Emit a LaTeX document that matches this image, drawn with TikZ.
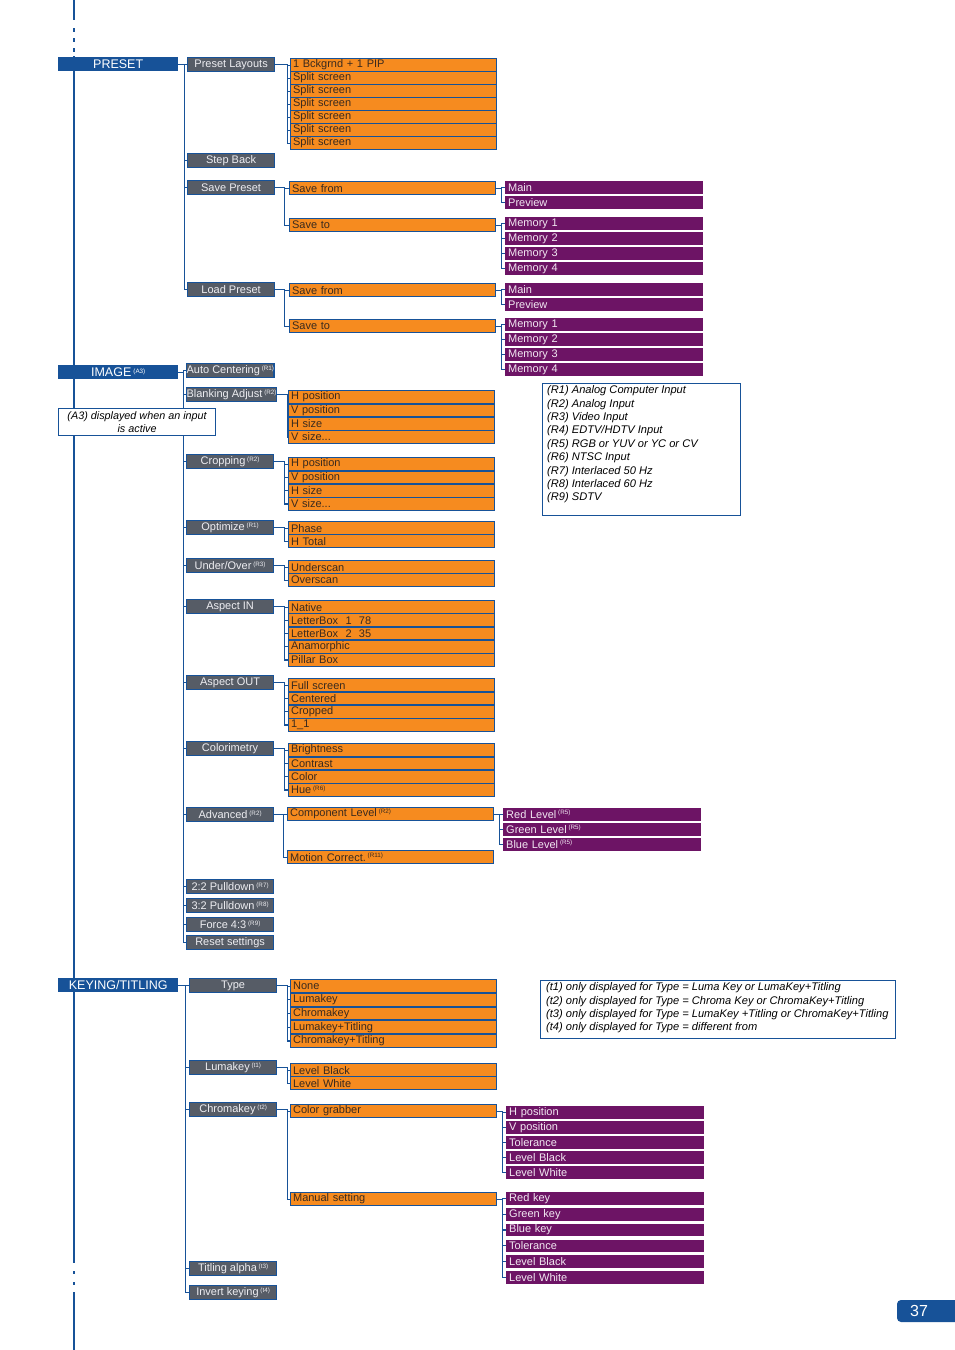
\documentclass[tikz,border=0pt]{standalone}
\usepackage{fontspec}
\setmainfont{Liberation Sans}
\definecolor{mblue}{HTML}{175298}
\definecolor{mgray}{HTML}{565C66}
\definecolor{gtext}{HTML}{EEEEF2}
\definecolor{morange}{HTML}{F68B1F}
\definecolor{otext}{HTML}{3A2A1E}
\definecolor{mpurple}{HTML}{6D1465}
\definecolor{ptext}{HTML}{F2E8F2}
\newcommand\mysup[1]{\,{\fontsize{6.3}{6.3}\selectfont\raisebox{3.4pt}{#1}}}
\newcommand\mydots{.\kern0pt.\kern0pt.}
\begin{document}
\begin{tikzpicture}[x=1pt,y=-1pt,
  conn/.style={draw=mblue, line width=1.2pt},
  l0/.style={anchor=north west, fill=mblue, text=white, minimum width=120pt, minimum height=14pt, inner sep=0pt, font=\fontsize{12.5}{12.5}\selectfont},
  l1/.style={anchor=north west, fill=mgray, draw=mblue, line width=1.2pt, text=gtext, minimum width=87pt, minimum height=14pt, inner sep=0pt, font=\fontsize{11}{11}\selectfont},
  l2/.style={anchor=north west, fill=morange, draw=mblue, line width=1.2pt, text=otext, text width=201pt, inner xsep=2.5pt, inner ysep=0pt, minimum height=13pt, align=left, font=\fontsize{11}{11}\selectfont},
  l3/.style={anchor=north west, fill=mpurple, text=ptext, text width=192pt, inner xsep=3pt, inner ysep=0pt, minimum height=12.5pt, align=left, font=\fontsize{11}{11}\selectfont},
  legbox/.style={anchor=north west, draw=mblue, line width=1.2pt, fill=white, inner sep=0pt},
  legtext/.style={anchor=north west, align=left, inner sep=0pt, font=\itshape\fontsize{11.1}{13.4}\selectfont},
]
\useasboundingbox (0,0) rectangle (954,1350);

% main left line
\draw[conn] (74,0) -- (74,20);
\draw[conn] (74,28) -- (74,32);
\draw[conn] (74,38) -- (74,42);
\draw[conn] (74,48) -- (74,52);
\draw[conn] (74,56) -- (74,1263);
\draw[conn] (74,1271) -- (74,1274);
\draw[conn] (74,1282) -- (74,1285);
\draw[conn] (74,1292) -- (74,1350);

% ================= PRESET =================
\node[l0] (preset) at (58,57) {PRESET};
\node[l1] (pl) at (187,57) {Preset Layouts};
\node[l1] (sb) at (187,153) {Step Back};
\node[l1] (sp) at (187,180) {Save Preset};
\node[l1] (lp) at (187,282) {Load Preset};
\foreach \n in {pl,sb,sp,lp} \draw[conn] (preset.east) -- ++(6,0) |- (\n.west);

\foreach \lab [count=\i] in {1 Bckgrnd + 1 PIP,Split screen,Split screen,Split screen,Split screen,Split screen,Split screen}
  \node[l2] (pl\i) at (290,{58+(\i-1)*13}) {\lab};
\foreach \i in {1,...,7} \draw[conn] (pl.east) -- ++(12,0) |- (pl\i.west);

\node[l2] (sp1) at (289,181) {Save from};
\node[l2] (sp2) at (289,218) {Save to};
\foreach \n in {sp1,sp2} \draw[conn] (sp.east) -- ++(9,0) |- (\n.west);
\foreach \lab [count=\i] in {Main,Preview}
  \node[l3] (spa\i) at (505,{181+(\i-1)*15}) {\lab};
\foreach \i in {1,2} \draw[conn] (sp1.east) -- ++(5,0) |- (spa\i.west);
\foreach \lab [count=\i] in {Memory 1,Memory 2,Memory 3,Memory 4}
  \node[l3] (spb\i) at (505,{217+(\i-1)*15}) {\lab};
\foreach \i in {1,...,4} \draw[conn] (sp2.east) -- ++(5,0) |- (spb\i.west);

\node[l2] (lp1) at (289,283) {Save from};
\node[l2] (lp2) at (289,319) {Save to};
\foreach \n in {lp1,lp2} \draw[conn] (lp.east) -- ++(9,0) |- (\n.west);
\foreach \lab [count=\i] in {Main,Preview}
  \node[l3] (lpa\i) at (505,{283+(\i-1)*15}) {\lab};
\foreach \i in {1,2} \draw[conn] (lp1.east) -- ++(5,0) |- (lpa\i.west);
\foreach \lab [count=\i] in {Memory 1,Memory 2,Memory 3,Memory 4}
  \node[l3] (lpb\i) at (505,{318+(\i-1)*15}) {\lab};
\foreach \i in {1,...,4} \draw[conn] (lp2.east) -- ++(5,0) |- (lpb\i.west);

% ================= IMAGE =================
\node[l0] (image) at (58,365) {IMAGE\mysup{(A3)}};
\node[l1] (ac) at (186,363) {Auto Centering\mysup{(R1)}};
\node[l1] (ba) at (186,387) {Blanking Adjust\mysup{(R2)}};
\node[l1] (cr) at (186,454) {Cropping\mysup{(R2)}};
\node[l1] (op) at (186,520) {Optimize\mysup{(R1)}};
\node[l1] (uo) at (186,558) {Under/Over\mysup{(R3)}};
\node[l1] (ai) at (186,599) {Aspect IN};
\node[l1] (ao) at (186,675) {Aspect OUT};
\node[l1] (co) at (186,741) {Colorimetry};
\node[l1] (ad) at (186,807) {Advanced\mysup{(R2)}};
\node[l1] (p22) at (186,879) {2:2 Pulldown\mysup{(R7)}};
\node[l1] (p32) at (186,898) {3:2 Pulldown\mysup{(R8)}};
\node[l1] (f43) at (186,917) {Force 4:3\mysup{(R9)}};
\node[l1] (rs) at (186,935) {Reset settings};
\foreach \n in {ac,ba,cr,op,uo,ai,ao,co,ad,p22,p32,f43,rs}
  \draw[conn] (image.east) -- ++(5,0) |- (\n.west);

\foreach \lab [count=\i] in {H position,V position,H size,V size\mydots}
  \node[l2] (ba\i) at (288,{390+(\i-1)*13.3}) {\lab};
\foreach \i in {1,...,4} \draw[conn] (ba.east) -- ++(10,0) |- (ba\i.west);

\foreach \lab [count=\i] in {H position,V position,H size,V size\mydots}
  \node[l2] (cr\i) at (288,{457+(\i-1)*13.3}) {\lab};
\foreach \i in {1,...,4} \draw[conn] (cr.east) -- ++(10,0) |- (cr\i.west);

\foreach \lab [count=\i] in {Phase,H Total}
  \node[l2] (op\i) at (288,{521+(\i-1)*13}) {\lab};
\foreach \i in {1,2} \draw[conn] (op.east) -- ++(10,0) |- (op\i.west);

\foreach \lab [count=\i] in {Underscan,Overscan}
  \node[l2] (uo\i) at (288,{560+(\i-1)*13}) {\lab};
\foreach \i in {1,2} \draw[conn] (uo.east) -- ++(10,0) |- (uo\i.west);

\foreach \lab [count=\i] in {Native,LetterBox~ 1~ 78,LetterBox~ 2~ 35,Anamorphic,Pillar Box}
  \node[l2] (ai\i) at (288,{600+(\i-1)*13.2}) {\lab};
\foreach \i in {1,...,5} \draw[conn] (ai.east) -- ++(10,0) |- (ai\i.west);

\foreach \lab [count=\i] in {Full screen,Centered,Cropped,1\_1}
  \node[l2] (ao\i) at (288,{678+(\i-1)*13.3}) {\lab};
\foreach \i in {1,...,4} \draw[conn] (ao.east) -- ++(10,0) |- (ao\i.west);

\foreach \lab [count=\i] in {Brightness,Contrast,Color,Hue\mysup{(R6)}}
  \node[l2] (co\i) at (288,{743+(\i-1)*13.3}) {\lab};
\foreach \i in {1,...,4} \draw[conn] (co.east) -- ++(10,0) |- (co\i.west);

\node[l2] (ad1) at (287,807) {Component Level\mysup{(R2)}};
\node[l2] (ad2) at (287,850) {Motion Correct.\mysup{(R11)}};
\foreach \n in {ad1,ad2} \draw[conn] (ad.east) -- ++(9,0) |- (\n.west);
\foreach \lab [count=\i] in {Red Level\mysup{(R5)},Green Level\mysup{(R5)},Blue Level\mysup{(R5)}}
  \node[l3] (ada\i) at (503,{808+(\i-1)*15}) {\lab};
\foreach \i in {1,2,3} \draw[conn] (ad1.east) -- ++(5,0) |- (ada\i.west);

% ================= KEYING/TITLING =================
\node[l0] (key) at (58,978) {KEYING/TITLING};
\node[l1] (ty) at (189,978) {Type};
\node[l1] (lk) at (189,1060) {Lumakey\mysup{(t1)}};
\node[l1] (ck) at (189,1102) {Chromakey\mysup{(t2)}};
\node[l1] (ta) at (189,1261) {Titling alpha\mysup{(t3)}};
\node[l1] (ik) at (189,1285) {Invert keying\mysup{(t4)}};
\foreach \n in {ty,lk,ck,ta,ik} \draw[conn] (key.east) -- ++(7,0) |- (\n.west);

\foreach \lab [count=\i] in {None,Lumakey,Chromakey,Lumakey+Titling,Chromakey+Titling}
  \node[l2] (ty\i) at (290,{979+(\i-1)*13.7}) {\lab};
\foreach \i in {1,...,5} \draw[conn] (ty.east) -- ++(10,0) |- (ty\i.west);

\foreach \lab [count=\i] in {Level Black,Level White}
  \node[l2] (lk\i) at (290,{1063+(\i-1)*13}) {\lab};
\foreach \i in {1,2} \draw[conn] (lk.east) -- ++(10,0) |- (lk\i.west);

\node[l2] (ck1) at (290,1104) {Color grabber};
\node[l2] (ck2) at (290,1192) {Manual setting};
\foreach \n in {ck1,ck2} \draw[conn] (ck.east) -- ++(10,0) |- (\n.west);
\foreach \lab [count=\i] in {H position,V position,Tolerance,Level Black,Level White}
  \node[l3] (cka\i) at (506,{1106+(\i-1)*15}) {\lab};
\foreach \i in {1,...,5} \draw[conn] (ck1.east) -- ++(5,0) |- (cka\i.west);
\foreach \lab [count=\i] in {Red key,Green key,Blue key,Tolerance,Level Black,Level White}
  \node[l3] (ckb\i) at (506,{1192+(\i-1)*15.8}) {\lab};
\foreach \i in {1,...,6} \draw[conn] (ck2.east) -- ++(5,0) |- (ckb\i.west);

% ================= notes =================
\node[legbox, minimum width=157pt, minimum height=27pt, align=center,
      font=\itshape\fontsize{10.8}{12.5}\selectfont] (a3) at (58,408)
      {(A3) displayed when an input\\is active};

\node[legbox, minimum width=198pt, minimum height=132pt] (rleg) at (542,383) {};
\node[legtext] (rtxt) at (547,385.5) {(R1) Analog Computer Input\\(R2) Analog Input\\(R3) Video Input\\(R4) EDTV/HDTV Input\\(R5) RGB or YUV or YC or CV\\(R6) NTSC Input\\(R7) Interlaced 50 Hz\\(R8) Interlaced 60 Hz\\(R9) SDTV};

\node[legbox, minimum width=355pt, minimum height=58pt] (tleg) at (540,980) {};
\node[legtext] (ttxt) at (546,982.5) {(t1) only displayed for Type = Luma Key or LumaKey+Titling\\(t2) only displayed for Type = Chroma Key or ChromaKey+Titling\\(t3) only displayed for Type = LumaKey +Titling or ChromaKey+Titling\\(t4) only displayed for Type = different from};

% page number
\fill[mblue, rounded corners=4pt] (965,1300) -- (897,1300) -- (897,1322) -- (965,1322) -- cycle;
\node[text=white, font=\fontsize{16}{16}\selectfont, inner sep=0pt] (pg) at (919,1311) {37};
\end{tikzpicture}
\end{document}
